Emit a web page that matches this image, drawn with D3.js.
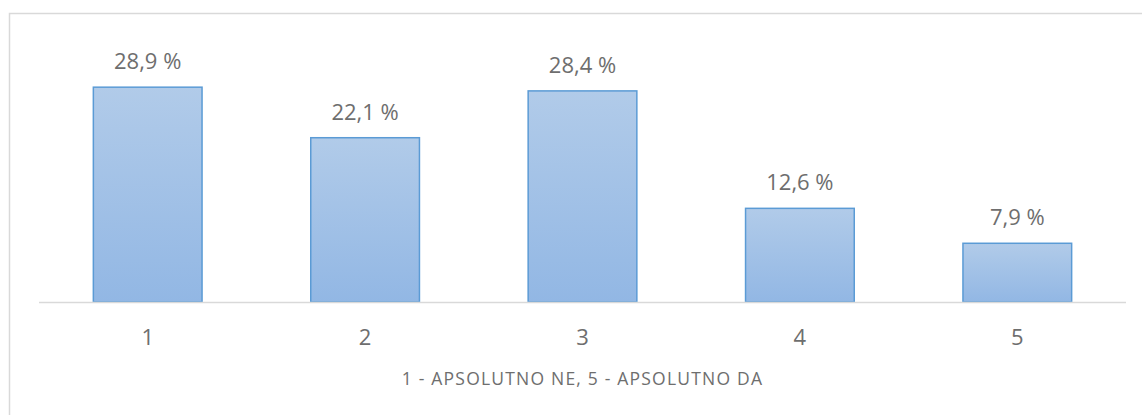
<!DOCTYPE html>
<html><head><meta charset="utf-8">
<script src="https://cdn.jsdelivr.net/npm/d3@7"></script>
<style>body{margin:0;background:#fff}svg{display:block}</style>
</head><body>
<svg id="c" width="1142" height="415"></svg>
<script>
const categories = ["1","2","3","4","5"];
const values = [28.9, 22.1, 28.4, 12.6, 7.9];
const axisTitle = "1 - APSOLUTNO NE, 5 - APSOLUTNO DA";

const svg = d3.select("#c");
const font = "'Open Sans', 'Liberation Sans', sans-serif";
const textColor = "#6e6e6e";
svg.append("rect").attr("x",9.5).attr("y",13.5).attr("width",1140).attr("height",410)
  .attr("fill","#fff").attr("stroke","#d9d9d9").attr("stroke-width",1.5);

const defs = svg.append("defs");
const g = defs.append("linearGradient").attr("id","bg").attr("x1",0).attr("y1",0).attr("x2",0).attr("y2",1);
g.append("stop").attr("offset","0%").attr("stop-color","#b1cbe9");
g.append("stop").attr("offset","100%").attr("stop-color","#92b7e4");

const x = d3.scaleBand().domain(categories).range([39,1126]).paddingInner(0.5).paddingOuter(0.25);
const y = d3.scaleLinear().domain([0,30]).range([302,79]);

svg.selectAll("rect.bar").data(values).join("rect").attr("class","bar")
  .attr("x",(d,i)=>x(categories[i])).attr("width",x.bandwidth())
  .attr("y",d=>y(d)).attr("height",d=>y(0)-y(d))
  .attr("fill","url(#bg)").attr("stroke","#5b9bd5").attr("stroke-width",1.5);

svg.append("line").attr("x1",39).attr("x2",1126).attr("y1",302.5).attr("y2",302.5)
  .attr("stroke","#d9d9d9").attr("stroke-width",1.5);

svg.selectAll("text.lbl").data(values).join("text").attr("class","lbl")
  .attr("x",(d,i)=>x(categories[i])+x.bandwidth()/2).attr("y",d=>y(d)-18)
  .attr("text-anchor","middle").attr("font-family",font).attr("font-size",22).attr("fill",textColor)
  .text(d=>d.toFixed(1).replace(".",",")+" %");

const ax = d3.axisBottom(x).tickSize(0).tickPadding(0);
const axG = svg.append("g").attr("transform","translate(0,302)").call(ax);
axG.select(".domain").remove();
axG.selectAll("text").attr("font-family",font).attr("font-size",22).attr("fill",textColor).attr("dy",0).attr("y",43);

svg.append("text").attr("x",(39+1126)/2).attr("y",385).attr("text-anchor","middle")
  .attr("font-family",font).attr("font-size",17.5).attr("letter-spacing",1.2).attr("fill",textColor).text(axisTitle);
</script>
</body></html>
